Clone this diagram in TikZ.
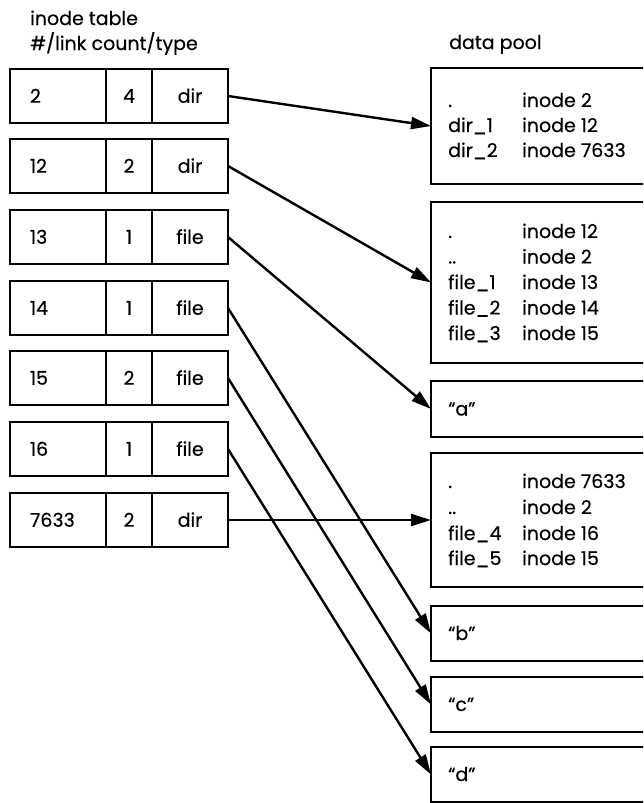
\documentclass[tikz,border=0pt]{standalone}
\usepackage{fontspec}
\setmainfont{Poppins}[FakeBold=0.4]
\usetikzlibrary{arrows.meta}
\begin{document}
\begin{tikzpicture}[x=1pt,y=-1pt,
  cell/.style={draw, line width=2.8pt, minimum height=54pt, inner ysep=0pt, outer sep=0pt,
    anchor=north west, text height=13.5pt, text depth=0pt, font=\fontsize{19}{22}\selectfont},
  numcell/.style={cell, text width=56pt, inner xsep=20pt, align=left},
  midcell/.style={cell, minimum width=46pt, inner xsep=0pt},
  typecell/.style={cell, minimum width=76pt, inner xsep=0pt},
  pool/.style={draw, line width=2.8pt, minimum width=320pt, inner sep=0pt, outer sep=0pt, anchor=north west},
  txt/.style={inner sep=0pt, anchor=base west, font=\fontsize{19}{22}\selectfont},
  link/.style={line width=2.4pt, -{Triangle[length=20pt,width=12pt]}}]
\useasboundingbox (0,0) rectangle (643,803);
\clip (0,0) rectangle (643,803);
\fill[white] (0,0) rectangle (643,803);

% headers
\node[txt] (h1) at (30,25) {inode table};
\node[txt] (h2) at (30,50) {\#/link count/type};
\node[txt] (h3) at (449,49) {data pool};

% inode table
\foreach \i/\top/\a/\b/\c in {1/69/2/4/dir, 2/139/12/2/dir, 3/210/13/1/file, 4/281/14/1/file,
    5/351/15/2/file, 6/422/16/1/file, 7/493/7633/2/dir}{
  \node[numcell] (r\i a) at (10,\top) {\a};
  \node[midcell] (r\i b) at (106,\top) {\b};
  \node[typecell] (r\i c) at (152,\top) {\c};
}

% data pool boxes
\node[pool, minimum height=116pt] (p1) at (431,68) {};
\node[pool, minimum height=161pt] (p2) at (431,202) {};
\node[pool, minimum height=56pt] (pa) at (431,381) {};
\node[pool, minimum height=134pt] (p4) at (431,453) {};
\node[pool, minimum height=55pt] (pb) at (431,606) {};
\node[pool, minimum height=55pt] (pc) at (431,677) {};
\node[pool, minimum height=55pt] (pd) at (431,747) {};

% box 1
\node[txt] (t11) at (448,107) {.};
\node[txt] (u11) at (522,107) {inode 2};
\node[txt] (t12) at (448,132) {dir\_1};
\node[txt] (u12) at (522,132) {inode 12};
\node[txt] (t13) at (448,157) {dir\_2};
\node[txt] (u13) at (522,157) {inode 7633};
% box 2
\node[txt] (t21) at (448,238) {.};
\node[txt] (u21) at (522,238) {inode 12};
\node[txt] (t22) at (448,263.5) {..};
\node[txt] (u22) at (522,263.5) {inode 2};
\node[txt] (t23) at (448,289) {file\_1};
\node[txt] (u23) at (522,289) {inode 13};
\node[txt] (t24) at (448,314.5) {file\_2};
\node[txt] (u24) at (522,314.5) {inode 14};
\node[txt] (t25) at (448,340) {file\_3};
\node[txt] (u25) at (522,340) {inode 15};
% box a
\node[txt] (ta) at (448,415.5) {“a”};
% box 4
\node[txt] (t41) at (448,488) {.};
\node[txt] (u41) at (522,488) {inode 7633};
\node[txt] (t42) at (448,514) {..};
\node[txt] (u42) at (522,514) {inode 2};
\node[txt] (t43) at (448,540) {file\_4};
\node[txt] (u43) at (522,540) {inode 16};
\node[txt] (t44) at (448,565) {file\_5};
\node[txt] (u44) at (522,565) {inode 15};
% boxes b c d
\node[txt] (tb) at (448,640) {“b”};
\node[txt] (tc) at (448,711) {“c”};
\node[txt] (td) at (448,781) {“d”};

% links
\draw[link] (r1c.east) -- (p1.west);
\draw[link] (r2c.east) -- (p2.west);
\draw[link] (r3c.east) -- (pa.west);
\draw[link] (r4c.east) -- (pb.west);
\draw[link] (r5c.east) -- (pc.west);
\draw[link] (r6c.east) -- (pd.west);
\draw[link] (r7c.east) -- (p4.west);
\end{tikzpicture}
\end{document}
